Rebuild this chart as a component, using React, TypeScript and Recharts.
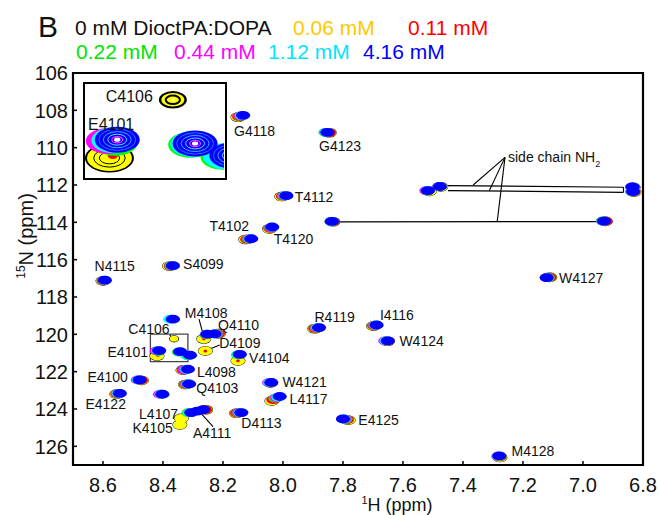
import { ReferenceArea, ReferenceLine, Scatter, ScatterChart, XAxis, YAxis } from 'recharts';

// 1H-15N HSQC overlay, DioctPA:DOPA titration. Each concentration is its own
// scatter layer of peak centres (ppm); the ellipses are drawn by a custom shape.

type Pt = [number, number];

const H_TICKS = [8.6, 8.4, 8.2, 8.0, 7.8, 7.6, 7.4, 7.2, 7.0, 6.8];
const N_TICKS = [106, 108, 110, 112, 114, 116, 118, 120, 122, 124, 126];

const CONC_LABELS = ['0 mM DioctPA:DOPA', '0.06 mM', '0.11 mM', '0.22 mM', '0.44 mM', '1.12 mM', '4.16 mM'];
const LEGEND_COLORS = ['#111111', '#ffc800', '#ff0000', '#00e400', '#ff00ff', '#00e4ff', '#0000ff'];
const PEAK_COLORS = ['#000000', '#ffff00', '#ff0000', '#00ff00', '#ff00ff', '#00ffff', '#0000ff'];

// 0 mM
const peaks000: Pt[] = [
  [8.150, 108.37], [7.846, 109.2], [8.004, 112.62], [7.834, 113.97], [6.926, 113.95],
  [7.512, 112.34], [6.83, 112.38], [7.474, 112.1], [6.833, 112.13], [8.045, 114.35],
  [8.124, 114.92], [8.378, 116.35], [8.6, 117.14], [8.264, 120.25], [8.215, 119.96],
  [8.42, 121.16], [8.259, 120.89], [8.15, 121.42], [8.333, 121.92], [8.325, 122.69],
  [8.472, 122.47], [8.042, 122.6], [8.554, 123.2], [8.037, 123.57], [8.258, 124.04],
  [8.339, 124.5], [8.344, 124.85], [8.155, 124.23], [7.783, 124.6], [7.894, 119.7],
  [7.698, 119.56], [7.652, 120.37], [7.111, 116.95], [7.277, 126.6],
];
// 0.06 mM
const peaks006: Pt[] = [
  [8.150, 108.37], [7.846, 109.2], [8.004, 112.62], [7.834, 113.97], [6.926, 113.95],
  [7.512, 112.34], [6.83, 112.38], [7.474, 112.1], [6.833, 112.13], [8.045, 114.35],
  [8.124, 114.92], [8.378, 116.35], [8.6, 117.14], [8.264, 120.25], [8.215, 119.96],
  [8.42, 121.16], [8.259, 120.89], [8.15, 121.42], [8.333, 121.92], [8.325, 122.69],
  [8.472, 122.47], [8.042, 122.6], [8.554, 123.2], [8.037, 123.57], [8.258, 124.04],
  [8.339, 124.5], [8.344, 124.85], [8.155, 124.23], [7.783, 124.6], [7.894, 119.7],
  [7.698, 119.56], [7.652, 120.37], [7.111, 116.95], [7.277, 126.6],
];
// 0.11 mM
const peaks011: Pt[] = [
  [8.146, 108.34], [7.847, 109.19], [8.0, 112.6], [7.833, 113.96], [6.925, 113.94],
  [7.52, 112.32], [6.832, 112.37], [7.48, 112.09], [6.834, 112.12], [8.042, 114.32],
  [8.119, 114.91], [8.374, 116.34], [8.598, 117.13], [8.217, 119.97], [8.331, 121.91],
  [8.323, 122.68], [8.474, 122.46], [8.041, 122.59], [8.552, 123.19], [8.032, 123.5],
  [8.26, 124.04], [8.153, 124.22], [7.787, 124.57], [7.892, 119.68], [7.696, 119.54],
  [7.652, 120.36], [7.112, 116.95], [7.278, 126.57],
];
// 0.22 mM
const peaks022: Pt[] = [
  [8.143, 108.31], [7.858, 109.18], [7.997, 112.59], [7.838, 113.95], [6.934, 113.92],
  [7.518, 112.31], [6.836, 112.35], [7.478, 112.08], [6.836, 112.11], [8.04, 114.29],
  [8.114, 114.9], [8.372, 116.33], [8.597, 117.12], [8.255, 120.03], [8.222, 119.98],
  [8.415, 120.92], [8.347, 120.95], [8.318, 121.14], [8.15, 121.1], [8.328, 121.9],
  [8.32, 122.67], [8.48, 122.45], [8.044, 122.58], [8.55, 123.18], [8.025, 123.42],
  [8.315, 124.2], [8.148, 124.21], [7.792, 124.55], [7.888, 119.66], [7.693, 119.52],
  [7.656, 120.35], [7.118, 116.96], [7.279, 126.54],
];
// 0.44 mM
const peaks044: Pt[] = [
  [8.141, 108.3], [7.856, 109.18], [7.995, 112.58], [7.838, 113.95], [6.933, 113.93],
  [7.522, 112.3], [6.835, 112.35], [7.479, 112.08], [6.836, 112.1], [8.039, 114.28],
  [8.112, 114.89], [8.371, 116.33], [8.597, 117.11], [8.253, 120.0], [8.224, 119.98],
  [8.421, 120.89], [8.33, 121.9], [8.319, 122.67], [8.484, 122.44], [8.046, 122.58],
  [8.41, 123.21], [8.549, 123.17], [8.02, 123.39], [8.31, 124.19], [8.146, 124.2],
  [7.795, 124.54], [7.886, 119.65], [7.692, 119.52], [7.659, 120.35], [7.12, 116.96],
  [7.282, 126.53],
];
// 1.12 mM
const peaks112: Pt[] = [
  [8.137, 108.28], [7.855, 109.18], [7.992, 112.57], [7.838, 113.95], [6.932, 113.93],
  [7.518, 112.3], [6.834, 112.35], [7.478, 112.08], [6.835, 112.1], [8.037, 114.26],
  [8.109, 114.88], [8.369, 116.32], [8.595, 117.1], [8.376, 119.19], [8.252, 119.99],
  [8.226, 119.98], [8.416, 120.88], [8.345, 120.94], [8.316, 121.13], [8.148, 121.08],
  [8.321, 121.88], [8.316, 122.66], [8.481, 122.44], [8.043, 122.58], [8.405, 123.21],
  [8.547, 123.16], [8.016, 123.36], [8.311, 124.2], [8.142, 124.19], [7.798, 124.53],
  [7.883, 119.64], [7.69, 119.5], [7.655, 120.35], [7.119, 116.96], [7.28, 126.52],
];
// 4.16 mM
const peaks416: Pt[] = [
  [8.133, 108.27], [7.852, 109.18], [7.989, 112.57], [7.837, 113.95], [6.93, 113.93],
  [7.517, 112.3], [6.833, 112.35], [7.477, 112.08], [6.835, 112.1], [8.036, 114.25],
  [8.106, 114.88], [8.367, 116.32], [8.594, 117.1], [8.367, 119.19], [8.252, 119.99],
  [8.228, 119.98], [8.413, 120.87], [8.343, 120.93], [8.31, 121.12], [8.144, 121.07],
  [8.317, 121.87], [8.313, 122.66], [8.478, 122.44], [8.039, 122.58], [8.402, 123.21],
  [8.544, 123.16], [8.011, 123.33], [8.306, 124.19], [8.286, 124.11], [8.266, 124.03],
  [8.139, 124.19], [7.8, 124.53], [7.88, 119.64], [7.688, 119.5], [7.651, 120.35],
  [7.121, 116.96], [7.279, 126.51],
];
// weak peaks (C4106 at 0 / 0.06 mM, residual 0.11 mM centres)
const weak000: Pt[] = [[8.363, 120.24]];
const weak006: Pt[] = [[8.363, 120.24]];
const weak011: Pt[] = [[8.264, 120.24], [8.417, 121.12], [8.259, 120.89], [8.15, 121.42]];

const LABEL_TEXT = ['G4118', 'G4123', 'T4112', 'T4102', 'T4120', 'S4099', 'N4115', 'C4106', 'M4108', 'Q4110',
  'D4109', 'E4101', 'V4104', 'L4098', 'E4100', 'Q4103', 'W4121', 'E4122', 'L4117', 'L4107', 'K4105', 'A4111',
  'D4113', 'R4119', 'I4116', 'W4124', 'W4127', 'E4125', 'M4128'];
const LABEL_H = [8.163, 7.88, 7.961, 8.113, 8.031, 8.333, 8.628, 8.447, 8.256, 8.148, 8.144, 8.45, 8.113, 8.287,
  8.517, 8.289, 8.002, 8.591, 7.978, 8.35, 8.367, 8.236, 8.072, 7.828, 7.677, 7.612, 7.08, 7.749, 7.238];
const LABEL_N = [109.12, 109.93, 112.64, 114.21, 114.87, 116.21, 116.36, 119.73, 118.87, 119.5, 120.44, 120.92,
  121.25, 121.99, 122.3, 122.89, 122.53, 123.73, 123.48, 124.26, 125.02, 125.3, 124.76, 119.08, 118.96, 120.35,
  116.96, 124.59, 126.23];
const LABEL_ANCHOR = ['start', 'start', 'start', 'end', 'start', 'start', 'start', 'middle', 'middle', 'middle',
  'middle', 'end', 'start', 'start', 'end', 'start', 'start', 'middle', 'start', 'end', 'end', 'middle', 'middle',
  'middle', 'start', 'start', 'start', 'start', 'start'];

const INSET_LABEL_TEXT = ['C4106', 'E4101'];
const INSET_LABEL_H = [8.381, 8.4185];
const INSET_LABEL_N = [120.19, 120.63];
const INSET_LABEL_ANCHOR = ['end', 'middle'];

// leader lines [from, to]
const LEADERS: [Pt, Pt][] = [
  [[8.378, 120.03], [8.361, 120.28]],
  [[8.28, 119.19], [8.264, 120.12]],
  [[8.211, 120.57], [8.256, 120.86]],
  [[8.272, 124.26], [8.233, 124.94]],
  [[7.26, 110.52], [7.366, 112.0]],
  [[7.26, 110.52], [7.312, 112.3]],
  [[7.26, 110.52], [7.286, 113.96]],
];
// side chain NH2 pair connectors
const NH2_LINKS: [Pt, Pt][] = [
  [[7.45, 112.03], [6.865, 112.12]],
  [[7.45, 112.3], [6.865, 112.39]],
  [[6.865, 112.12], [6.865, 112.39]],
  [[7.81, 113.98], [6.955, 113.96]],
];
const INSET_BOX = { h1: 8.442, h2: 8.317, n1: 119.99, n2: 121.46 };

const FONT = '"Liberation Sans", Arial, Helvetica, sans-serif';

const toPts = (arr: Pt[]) => arr.map(([x, y]) => ({ x, y }));

interface Ring { k: number; c: string; w: number }

function ellipseShape(color: string, rx: number, ry: number, rings: Ring[] = [], dot?: string) {
  return (props: any) => {
    const { cx, cy } = props;
    if (cx == null || cy == null) return <g />;
    return (
      <g>
        <ellipse cx={cx} cy={cy} rx={rx} ry={ry} fill={color} />
        {rings.map((r, i) => (
          <ellipse key={i} cx={cx} cy={cy} rx={rx * r.k} ry={ry * r.k} fill="none" stroke={r.c} strokeWidth={r.w} />
        ))}
        {dot && <ellipse cx={cx} cy={cy} rx={Math.max(1.5, rx * 0.14)} ry={Math.max(1.2, ry * 0.16)} fill={dot} />}
      </g>
    );
  };
}

function labelShape(fontSize: number) {
  return (props: any) => {
    const { cx, cy, payload } = props;
    return (
      <text x={cx} y={cy} dy="0.36em" textAnchor={payload.anchor} fontSize={fontSize} fontFamily={FONT} fill="#111">
        {payload.text}
      </text>
    );
  };
}

type Layer = { pts: Pt[]; color: string; size: 'black' | 'normal' | 'weakBlack' | 'weak' | 'dot' };
const LAYERS: Layer[] = [
  { pts: peaks000, color: PEAK_COLORS[0], size: 'black' },
  { pts: weak000, color: PEAK_COLORS[0], size: 'weakBlack' },
  { pts: peaks006, color: PEAK_COLORS[1], size: 'normal' },
  { pts: weak006, color: PEAK_COLORS[1], size: 'weak' },
  { pts: peaks011, color: PEAK_COLORS[2], size: 'normal' },
  { pts: weak011, color: PEAK_COLORS[2], size: 'dot' },
  { pts: peaks022, color: PEAK_COLORS[3], size: 'normal' },
  { pts: peaks044, color: PEAK_COLORS[4], size: 'normal' },
  { pts: peaks112, color: PEAK_COLORS[5], size: 'normal' },
  { pts: peaks416, color: PEAK_COLORS[6], size: 'normal' },
];

const MAIN_SIZES = {
  black: [7.5, 4.8], normal: [7.1, 4.4], weakBlack: [5.0, 3.6], weak: [4.3, 3.0], dot: [1.8, 1.5],
};
const INSET_SIZES = {
  black: [24.5, 14.5], normal: [22.5, 13], weakBlack: [14, 8.7], weak: [11.5, 6.8], dot: [5, 3.5],
};

function insetRings(layer: Layer): { rings: Ring[]; dot?: string } {
  if (layer.color === '#ffff00' && layer.size === 'weak') return { rings: [{ k: 0.62, c: '#000', w: 2 }], dot: '#fff' };
  if (layer.color === '#ffff00') return { rings: [{ k: 0.7, c: '#000', w: 1 }, { k: 0.45, c: '#000', w: 1 }] };
  if (layer.color === '#0000ff')
    return {
      rings: [
        { k: 0.82, c: '#2f6dff', w: 1 },
        { k: 0.62, c: '#33b0ff', w: 1 },
        { k: 0.42, c: '#66e0ff', w: 1 },
        { k: 0.24, c: '#ff33ff', w: 1.2 },
      ],
      dot: '#ffffff',
    };
  return { rings: [] };
}

function XTick(props: any) {
  const { x, y, payload } = props;
  return (
    <g>
      <line x1={x} y1={y} x2={x} y2={y - 4} stroke="#000" strokeWidth={1.5} />
      <text x={x} y={y + 13} dy="0.71em" textAnchor="middle" fontSize={20} fontFamily={FONT} fill="#111">
        {Number(payload.value).toFixed(1)}
      </text>
    </g>
  );
}

function YTick(props: any) {
  const { x, y, payload } = props;
  return (
    <g>
      <line x1={x} y1={y} x2={x + 4} y2={y} stroke="#000" strokeWidth={1.5} />
      <text x={x - 5} y={y} dy="0.36em" textAnchor="end" fontSize={20} fontFamily={FONT} fill="#111">
        {payload.value}
      </text>
    </g>
  );
}

const mainLabels = LABEL_TEXT.map((text, i) => ({ x: LABEL_H[i], y: LABEL_N[i], text, anchor: LABEL_ANCHOR[i] }));
const insetLabels = INSET_LABEL_TEXT.map((text, i) => ({
  x: INSET_LABEL_H[i], y: INSET_LABEL_N[i], text, anchor: INSET_LABEL_ANCHOR[i],
}));

export default function App() {
  return (
    <div style={{ position: 'absolute', left: 0, top: 0, width: 658, height: 515, background: '#fff', fontFamily: FONT }}>
      <ScatterChart width={658} height={515} margin={{ top: 73, right: 15, bottom: 20, left: 13 }}>
        <XAxis
          type="number"
          dataKey="x"
          domain={[6.8, 8.7]}
          reversed
          allowDataOverflow
          ticks={H_TICKS}
          interval={0}
          height={30}
          tickSize={0}
          tickMargin={0}
          tickLine={false}
          axisLine={false}
          tick={(p: any) => <XTick {...p} />}
        />
        <YAxis
          type="number"
          dataKey="y"
          domain={[106, 127]}
          reversed
          allowDataOverflow
          ticks={N_TICKS}
          interval={0}
          width={60}
          tickSize={0}
          tickMargin={0}
          tickLine={false}
          axisLine={false}
          tick={(p: any) => <YTick {...p} />}
        />
        {NH2_LINKS.map(([a, b], i) => (
          <ReferenceLine key={`nh${i}`} segment={[{ x: a[0], y: a[1] }, { x: b[0], y: b[1] }]} stroke="#000" strokeWidth={1.2} ifOverflow="visible" />
        ))}
        {LAYERS.map((l, i) => {
          const [rx, ry] = MAIN_SIZES[l.size];
          return (
            <Scatter key={`m${i}`} data={toPts(l.pts)} shape={ellipseShape(l.color, rx, ry)} isAnimationActive={false} />
          );
        })}
        {LEADERS.map(([a, b], i) => (
          <ReferenceLine key={`ld${i}`} segment={[{ x: a[0], y: a[1] }, { x: b[0], y: b[1] }]} stroke="#000" strokeWidth={1.1} ifOverflow="visible" />
        ))}
        <ReferenceArea
          x1={INSET_BOX.h1}
          x2={INSET_BOX.h2}
          y1={INSET_BOX.n1}
          y2={INSET_BOX.n2}
          fill="none"
          stroke="#444"
          strokeWidth={1.3}
          ifOverflow="visible"
        />
        <Scatter data={mainLabels} shape={labelShape(14)} isAnimationActive={false} />
        <ReferenceArea x1={8.7} x2={6.8} y1={106} y2={127} fill="none" stroke="#000" strokeWidth={2.2} ifOverflow="visible" />
      </ScatterChart>

      <svg width={658} height={515} style={{ position: 'absolute', left: 0, top: 0, pointerEvents: 'none' }} fontFamily={FONT}>
        <text x={38} y={37} fontSize={30} fill="#111">B</text>
        <text x={75} y={35} fontSize={21} fill={LEGEND_COLORS[0]}>{CONC_LABELS[0]}</text>
        <text x={293} y={35} fontSize={21} fill={LEGEND_COLORS[1]}>{CONC_LABELS[1]}</text>
        <text x={408} y={35} fontSize={21} fill={LEGEND_COLORS[2]}>{CONC_LABELS[2]}</text>
        <text x={76} y={59} fontSize={21} fill={LEGEND_COLORS[3]}>{CONC_LABELS[3]}</text>
        <text x={174} y={59} fontSize={21} fill={LEGEND_COLORS[4]}>{CONC_LABELS[4]}</text>
        <text x={268} y={59} fontSize={21} fill={LEGEND_COLORS[5]}>{CONC_LABELS[5]}</text>
        <text x={363} y={59} fontSize={21} fill={LEGEND_COLORS[6]}>{CONC_LABELS[6]}</text>
        <text x={508} y={157} dy="0.36em" fontSize={14} fill="#111">
          side chain NH<tspan fontSize={9} dy={5}>2</tspan>
        </text>
        <text x={397} y={511} fontSize={18} textAnchor="middle" fill="#111">
          <tspan fontSize={11} dy={-7}>1</tspan>
          <tspan dy={7}>H (ppm)</tspan>
        </text>
        <text x={33} y={236} fontSize={20} textAnchor="middle" fill="#111" transform="rotate(-90 33 236)">
          <tspan fontSize={12} dy={-8}>15</tspan>
          <tspan dy={8}>N (ppm)</tspan>
        </text>
      </svg>

      <div
        style={{
          position: 'absolute', left: 83, top: 82, width: 144, height: 98, boxSizing: 'border-box',
          border: '2.5px solid #000', background: '#fff', overflow: 'hidden',
        }}
      >
        <ScatterChart width={139} height={93} margin={{ top: 0, right: 0, bottom: 0, left: 0 }}>
          <XAxis type="number" dataKey="x" domain={[INSET_BOX.h2, INSET_BOX.h1]} reversed allowDataOverflow hide />
          <YAxis type="number" dataKey="y" domain={[INSET_BOX.n1, INSET_BOX.n2]} reversed allowDataOverflow hide />
          {LAYERS.map((l, i) => {
            const [rx, ry] = INSET_SIZES[l.size];
            const { rings, dot } = insetRings(l);
            return (
              <Scatter key={`i${i}`} data={toPts(l.pts)} shape={ellipseShape(l.color, rx, ry, rings, dot)} isAnimationActive={false} />
            );
          })}
          <Scatter data={insetLabels} shape={labelShape(16)} isAnimationActive={false} />
        </ScatterChart>
      </div>
    </div>
  );
}
